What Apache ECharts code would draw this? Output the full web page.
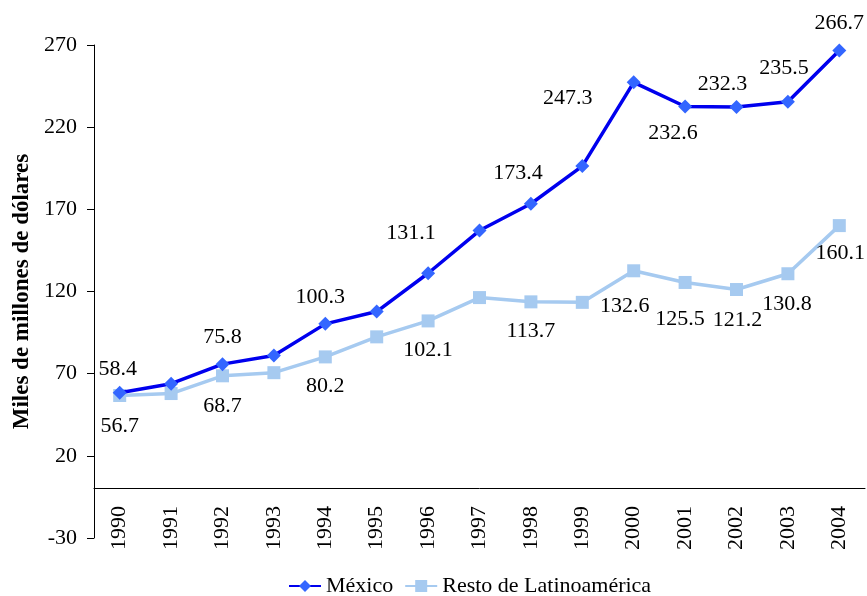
<!DOCTYPE html>
<html>
<head>
<meta charset="utf-8">
<script src="https://cdn.jsdelivr.net/npm/echarts@6/dist/echarts.min.js"></script>
<style>
  html, body { margin: 0; padding: 0; background: #fff; }
  #chart { width: 867px; height: 596px; }
</style>
</head>
<body>
<div id="chart"></div>
<script>
const years = ['1990', '1991', '1992', '1993', '1994', '1995', '1996', '1997', '1998', '1999', '2000', '2001', '2002', '2003', '2004']
const mexico = [58.4, 63.9, 75.8, 81.0, 100.3, 107.8, 131.1, 157.1, 173.4, 196.3, 247.3, 232.6, 232.3, 235.5, 266.7]
const resto = [56.7, 57.9, 68.7, 70.6, 80.2, 92.4, 102.1, 116.3, 113.7, 113.4, 132.6, 125.5, 121.2, 130.8, 160.1]
// years that carry a value label (index into years)
const mexicoLabeled = [0, 2, 4, 6, 8, 10, 11, 12, 13, 14]
const restoLabeled = [0, 2, 4, 6, 8, 10, 11, 12, 13, 14]

// label offsets from the marker centre, in px
const mexicoOffsets = {
  0: [-2, -24], 2: [0, -27], 4: [-5, -27], 6: [-17, -40], 8: [-13, -31],
  10: [-66, 16], 11: [-12, 27], 12: [-14, -23], 13: [-4, -33], 14: [0, -27]
}
const restoOffsets = {
  0: [0, 31], 2: [0, 30], 4: [0, 29], 6: [0, 29], 8: [0, 29],
  10: [-9, 35], 11: [-5, 37], 12: [1, 31], 13: [-1, 30], 14: [1, 28]
}

const font = "'Liberation Serif', 'Times New Roman', serif"

const buildData = (values, labeled, offsets) =>
  values.map((v, i) => {
    if (labeled.indexOf(i) < 0) return v
    return {
      value: v,
      label: {
        show: true,
        position: 'inside',
        offset: offsets[i],
        formatter: v.toFixed(1)
      }
    }
  })

const chart = echarts.init(document.getElementById('chart'))
const option = {
  animation: false,
  textStyle: { fontFamily: font },
  grid: { left: 94, right: 2, top: 45, bottom: 58, outerBoundsMode: 'none' },
  legend: {
    left: 288,
    top: 575,
    padding: 0,
    itemWidth: 32,
    itemHeight: 15,
    itemGap: 11,
    textStyle: { fontFamily: font, fontSize: 22, color: '#000' },
    data: ['México', 'Resto de Latinoamérica']
  },
  xAxis: {
    type: 'category',
    data: years,
    axisLine: { onZero: true, lineStyle: { color: '#000', width: 1 } },
    axisTick: { show: false },
    // labels stay at the grid bottom in v6, pull them up under the zero line
    axisLabel: { rotate: 90, margin: -32, color: '#000', fontSize: 22, fontFamily: font }
  },
  yAxis: {
    type: 'value',
    min: -30,
    max: 270,
    interval: 50,
    name: 'Miles de millones de dólares',
    nameLocation: 'middle',
    nameGap: 60,
    nameTextStyle: { fontFamily: font, fontSize: 23, fontWeight: 'bold', color: '#000' },
    axisLine: { show: true, lineStyle: { color: '#000', width: 1 } },
    axisTick: { show: true, length: 7, lineStyle: { color: '#000' } },
    axisLabel: { margin: 17, color: '#000', fontSize: 22, fontFamily: font },
    splitLine: { show: false }
  },
  series: [
    {
      name: 'México',
      type: 'line',
      data: buildData(mexico, mexicoLabeled, mexicoOffsets),
      symbol: 'diamond',
      symbolSize: 14,
      itemStyle: { color: '#3366FF' },
      lineStyle: { color: '#0000EE', width: 3.5 },
      label: { color: '#000', fontSize: 22, fontFamily: font },
      z: 3
    },
    {
      name: 'Resto de Latinoamérica',
      type: 'line',
      data: buildData(resto, restoLabeled, restoOffsets),
      symbol: 'rect',
      symbolSize: 13,
      itemStyle: { color: '#A6CAF0' },
      lineStyle: { color: '#A6CAF0', width: 3.5 },
      label: { color: '#000', fontSize: 22, fontFamily: font },
      z: 2
    }
  ]
}
chart.setOption(option)
</script>
</body>
</html>
